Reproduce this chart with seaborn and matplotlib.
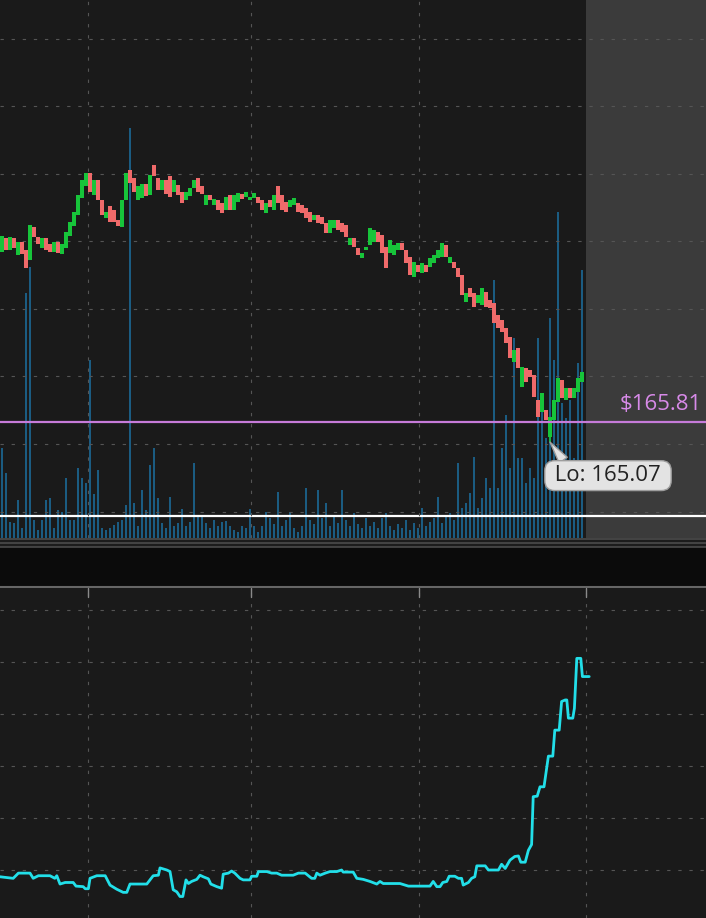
import matplotlib
matplotlib.use("Agg")
import matplotlib.pyplot as plt
import seaborn as sns
import numpy as np

# ---- data ----
opens = [
    172.10, 172.62, 172.18, 172.62, 171.99, 172.47, 172.18, 171.81, 173.03, 172.66,
    172.25, 172.62, 172.40, 172.10, 172.47, 172.03, 172.25, 172.70, 173.07, 173.47,
    174.10, 174.55, 175.03, 174.21, 174.77, 174.03, 173.36, 173.81, 173.66, 173.29,
    173.03, 174.03, 175.14, 174.84, 174.03, 174.10, 174.62, 174.21, 175.32, 174.84,
    174.40, 174.77, 174.92, 174.32, 174.58, 174.32, 174.03, 174.18, 174.47, 174.84,
    174.55, 173.84, 174.21, 173.84, 174.03, 173.92, 173.66, 174.21, 173.66, 173.95,
    174.25, 174.14, 174.03, 174.10, 174.14, 174.03, 173.55, 174.03, 173.66, 174.55,
    174.21, 173.95, 173.77, 173.84, 173.92, 173.84, 173.73, 173.58, 173.29, 173.47,
    173.40, 173.18, 172.81, 172.99, 173.29, 173.18, 173.10, 172.36, 172.62, 172.25,
    171.88, 172.18, 172.36, 172.47, 172.84, 172.73, 172.29, 172.07, 171.99, 172.18,
    172.44, 172.18, 171.92, 171.18, 171.62, 171.33, 171.62, 171.55, 171.70, 171.88,
    171.92, 172.36, 171.70, 171.73, 171.51, 171.25, 170.25, 170.77, 170.59, 170.22,
    170.14, 170.62, 170.33, 170.22, 169.77, 169.59, 169.29, 168.96, 168.03, 168.55,
    167.11, 167.81, 167.74, 167.55, 166.63, 166.18, 166.26, 165.26, 165.88, 166.55,
    167.37, 166.63, 167.07, 166.70, 166.92, 167.30,
]
closes = [
    172.70, 172.18, 172.66, 172.25, 172.47, 172.03, 171.51, 173.10, 172.66, 172.40,
    172.62, 172.18, 172.10, 172.47, 172.07, 172.40, 172.84, 173.21, 173.58, 174.21,
    174.77, 175.03, 174.32, 174.77, 174.03, 173.47, 173.58, 173.21, 173.21, 173.07,
    174.03, 175.03, 174.66, 174.32, 174.55, 174.62, 174.18, 174.95, 174.92, 174.40,
    174.77, 174.25, 174.14, 174.77, 174.21, 173.92, 174.32, 174.47, 174.77, 174.32,
    174.25, 174.21, 174.03, 174.07, 173.66, 173.55, 174.14, 173.66, 174.21, 174.29,
    174.07, 174.32, 174.14, 174.29, 173.92, 173.66, 173.92, 173.77, 174.21, 173.92,
    173.66, 173.58, 174.03, 174.10, 173.58, 173.55, 173.36, 173.21, 173.47, 173.18,
    173.14, 172.81, 173.29, 173.29, 172.92, 172.84, 172.66, 172.62, 172.29, 171.99,
    172.07, 172.29, 172.99, 172.92, 172.47, 172.07, 171.51, 172.55, 172.36, 172.44,
    172.18, 171.70, 171.25, 171.73, 171.36, 171.70, 171.36, 171.88, 171.99, 172.18,
    172.44, 171.92, 171.92, 171.51, 171.18, 170.51, 170.59, 170.44, 170.07, 170.51,
    170.77, 170.07, 170.03, 169.48, 169.29, 169.14, 168.74, 168.18, 168.48, 167.81,
    167.85, 167.30, 167.48, 166.74, 165.99, 166.89, 165.88, 165.99, 166.63, 167.44,
    166.70, 167.07, 166.70, 167.07, 167.44, 167.66,
]
# volume per bar (thousands)
volumes = [
    90, 65, 16, 15, 38, 10, 245, 271, 18, 8,
    18, 38, 40, 10, 28, 26, 60, 18, 18, 70,
    60, 55, 178, 44, 68, 10, 8, 10, 13, 16,
    18, 33, 410, 35, 12, 48, 28, 73, 90, 40,
    15, 10, 41, 12, 15, 29, 12, 16, 75, 22,
    22, 15, 10, 18, 12, 16, 17, 12, 8, 6,
    12, 10, 29, 12, 6, 12, 26, 20, 14, 46,
    12, 18, 26, 10, 6, 12, 50, 18, 14, 48,
    20, 35, 12, 22, 15, 48, 18, 12, 25, 14,
    10, 20, 12, 16, 10, 20, 25, 12, 8, 14,
    10, 18, 8, 15, 10, 30, 12, 16, 20, 41,
    15, 22, 25, 18, 75, 30, 35, 45, 81, 30,
    40, 60, 50, 258, 50, 90, 123, 70, 200, 80,
    80, 55, 70, 60, 200, 145, 100, 220, 178, 326,
    135, 120, 138, 80, 175, 268,
]
lo_bar = 137
lo_price = 165.07
alert_price = 165.81
vol_avg = 22

# lower study line
ind_x = [
    -0.5, 2.8, 4.1, 7.0, 7.8, 9.1, 12.0, 13.2, 13.7, 14.5,
    15.8, 17.8, 18.5, 20.3, 20.8, 21.6, 22.0, 23.7, 25.8, 27.0,
    28.7, 30.3, 31.2, 32.0, 36.2, 37.8, 39.1, 39.5, 41.2, 42.0,
    42.8, 43.7, 44.5, 45.2, 46.0, 46.6, 47.4, 48.7, 49.5, 50.3,
    51.6, 52.2, 53.7, 54.9, 55.3, 56.6, 57.4, 58.2, 59.5, 60.3,
    62.0, 62.4, 63.7, 64.1, 66.2, 67.4, 68.7, 69.9, 72.8, 74.1,
    75.8, 77.4, 78.2, 78.7, 79.5, 80.8, 82.0, 83.7, 84.9, 85.3,
    87.8, 88.7, 90.3, 92.0, 93.7, 94.5, 95.3, 99.5, 101.6, 107.0,
    107.8, 108.7, 109.5, 110.2, 111.2, 111.8, 113.2, 114.1, 114.9, 115.3,
    116.6, 117.4, 118.2, 118.7, 120.8, 121.6, 124.1, 124.9, 125.8, 127.0,
    128.2, 129.1, 129.7, 130.8, 131.6, 132.4, 132.8, 133.8, 134.5, 135.5,
    136.6, 137.7, 138.2, 139.3, 139.9, 140.8, 141.2, 141.6, 142.7, 143.1,
    143.7, 144.7, 145.1, 146.8,
]
ind_v = [
    0.87, 0.84, 0.94, 0.94, 0.84, 0.89, 0.89, 0.84, 0.89, 0.73,
    0.76, 0.76, 0.69, 0.68, 0.64, 0.64, 0.84, 0.89, 0.89, 0.71,
    0.63, 0.57, 0.57, 0.73, 0.73, 0.89, 0.90, 1.04, 1.00, 0.97,
    0.62, 0.58, 0.49, 0.49, 0.81, 0.74, 0.78, 0.82, 0.90, 0.87,
    0.83, 0.73, 0.68, 0.65, 0.92, 0.94, 0.98, 0.94, 0.84, 0.81,
    0.81, 0.88, 0.88, 0.97, 0.97, 0.94, 0.94, 0.90, 0.90, 0.94,
    0.94, 0.84, 0.84, 0.94, 0.90, 0.94, 0.97, 0.97, 1.00, 0.96,
    0.96, 0.84, 0.82, 0.78, 0.73, 0.78, 0.74, 0.74, 0.69, 0.69,
    0.78, 0.68, 0.68, 0.76, 0.78, 0.88, 0.88, 0.84, 0.84, 0.71,
    0.76, 0.84, 0.87, 1.08, 1.08, 1.00, 1.00, 1.11, 1.03, 1.19,
    1.26, 1.27, 1.15, 1.15, 1.38, 1.49, 2.41, 2.42, 2.60, 2.60,
    3.19, 3.19, 3.69, 3.69, 4.24, 4.27, 4.27, 3.92, 3.92, 4.11,
    5.07, 5.07, 4.72, 4.72,
]

price_grid = [162.5, 165.0, 167.5, 170.0, 172.5, 175.0, 177.5, 180.0]
time_grid = [21.5, 62.25, 104.25, 146.0]
ind_grid = [1, 2, 3, 4, 5, 6]
future_start = 146.0

# ---- style ----
BG = "#1a1a1a"
FUTURE = "#3b3b3b"
GRID = "#555555"
UP = "#17c43a"
DOWN = "#ef6a6a"
VOL = "#1b5c82"
dash = (0, (3, 7))

sns.set_theme(style="dark", rc={"axes.facecolor": BG, "figure.facecolor": BG})
plt.rcParams["font.family"] = ["Open Sans", "DejaVu Sans"]

fig = plt.figure(figsize=(7.06, 9.18), dpi=100)
H = 918.0
ax_vol = fig.add_axes([0, (H - 538) / H, 1, 538 / H])
ax_px = ax_vol.twinx()
ax_sep = fig.add_axes([0, 330 / H, 1, 50 / H])
ax_ind = fig.add_axes([0, 0, 1, 330 / H])

xlim = (-0.5, 176.0)
bars = np.arange(len(closes))

# volume panel (behind)
ax_vol.axvspan(future_start, xlim[1], color=FUTURE, lw=0, zorder=0)
ax_vol.bar(bars, volumes, width=0.68, color=VOL, lw=0, zorder=2)
ax_vol.axhline(vol_avg, color="white", lw=1.6, zorder=3)
ax_vol.set_ylim(0, 538)
ax_vol.set_xlim(*xlim)

# price panel
for p in price_grid:
    ax_px.axhline(p, color=GRID, lw=0.8, ls=dash, zorder=0)
for t in time_grid[:-1]:
    ax_px.axvline(t, color=GRID, lw=0.8, ls=dash, zorder=0)

o = np.array(opens)
c = np.array(closes)
body = c - o
body = np.where(np.abs(body) < 0.05, np.where(body >= 0, 0.05, -0.05), body)
colors = [UP if cc >= oo else DOWN for oo, cc in zip(o, c)]
ax_px.bar(bars, body, bottom=o, width=0.88, color=colors, lw=0, zorder=3)
ax_px.vlines(lo_bar, lo_price, min(o[lo_bar], c[lo_bar]), color=UP, lw=1.2, zorder=3)

ax_px.axhline(alert_price, color="#c67bd9", lw=1.6, zorder=4)
ax_px.text(154.3, 166.48, "$165.81", color="#d78ae8", fontsize=16,
           ha="left", va="center", zorder=5)
ax_px.annotate(" Lo: 165.07 ", xy=(lo_bar, lo_price), xytext=(151.5, 163.83),
               ha="center", va="center", fontsize=16, color="#222222",
               bbox=dict(boxstyle="round,pad=0.2,rounding_size=0.45", fc="#e3e3e3",
                         ec="#9d9d9d", lw=1),
               arrowprops=dict(arrowstyle="wedge,tail_width=0.45", fc="#e3e3e3",
                               ec="#9d9d9d", relpos=(0.15, 1.0), shrinkA=0, shrinkB=0),
               zorder=6)
ax_px.set_ylim(181.428 - 0.037 * 538, 181.428)
ax_px.set_xlim(*xlim)

# separator band
ax_sep.set_facecolor("#0b0b0b")
ax_sep.set_ylim(588, 538)
ax_sep.set_xlim(0, 1)
ax_sep.axhspan(538, 547, color="#1c1c1c", lw=0)
for yy in (539, 543, 546.5):
    ax_sep.axhline(yy, color="#505050", lw=1.1)
ax_sep.axhline(587, color="#666666", lw=1.5)

# lower study
for v in ind_grid:
    ax_ind.axhline(v, color=GRID, lw=0.8, ls=dash, zorder=0)
for t in time_grid:
    ax_ind.axvline(t, color=GRID, lw=0.8, ls=dash, zorder=0)
    ax_ind.plot([t, t], [1, 1 - 9 / 330], color="#8a8a8a", lw=1,
                transform=ax_ind.get_xaxis_transform(), zorder=1)
sns.lineplot(x=ind_x, y=ind_v, ax=ax_ind, color="#22dfe9", lw=2.0,
             estimator=None, sort=False, zorder=3)
ax_ind.set_xlim(*xlim)
ax_ind.set_ylim(0.077, 6.423)

for ax in (ax_vol, ax_px, ax_sep, ax_ind):
    ax.set_xticks([])
    ax.set_yticks([])
    ax.set_xlabel("")
    ax.set_ylabel("")
    for s in ax.spines.values():
        s.set_visible(False)

fig.savefig("out.png", dpi=100, facecolor=BG)
